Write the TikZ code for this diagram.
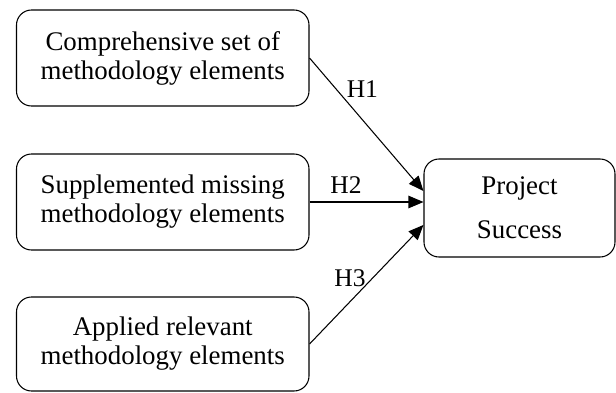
\documentclass[tikz,border=0pt]{standalone}
\usepackage{fontspec}
\setmainfont{Liberation Serif}
\usetikzlibrary{arrows.meta,positioning}

\begin{document}
\begin{tikzpicture}[
  elem/.style={rectangle, rounded corners=0.3cm, draw=black, line width=0.6pt,
    minimum width=5.85cm, minimum height=1.92cm, align=center,
    font=\fontsize{15.3}{16.5}\selectfont},
  outc/.style={rectangle, rounded corners=0.3cm, draw=black, line width=0.6pt,
    minimum width=3.82cm, minimum height=1.96cm, align=center,
    font=\fontsize{15.3}{25}\selectfont},
  arr/.style={-{Triangle[length=0.3cm,width=0.25cm]}, black, line width=0.6pt},
  hyp/.style={font=\fontsize{14.5}{16}\selectfont, inner sep=1.5pt}
]
\useasboundingbox (0,0) rectangle (12.32,7.84);

\node[elem] (comp) at (3.255,6.68) {Comprehensive set of\\methodology elements};
\node[elem] (supp) at (3.255,3.80) {Supplemented missing\\methodology elements};
\node[elem, minimum height=1.88cm] (appl) at (3.255,0.96) {Applied relevant\\methodology elements};
\node[outc] (succ) at (10.39,3.68) {Project\\Success};

\draw[arr] (comp.east) -- node[hyp, pos=0.23, right=4.5pt]{H1} (succ.170);
\draw[arr] (supp.east) -- node[hyp, pos=0.32, above=3pt]{H2} (supp.east -| succ.west);
\draw[arr] (appl.east) -- node[hyp, pos=0.55, left=2pt]{H3} (succ.190);
\end{tikzpicture}
\end{document}
